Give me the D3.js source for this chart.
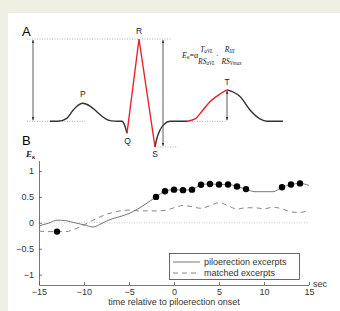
<!DOCTYPE html>
<html>
<head>
<meta charset="utf-8">
<script src="https://cdn.jsdelivr.net/npm/d3@7"></script>
<style>
  body { margin: 0; background: #efefe4; }
  svg { display: block; }
</style>
</head>
<body>
<svg id="chart"></svg>
<script>
const width = 340;
const height = 311;

// panel A: schematic ECG beat (ms, mV)
const ecgT = [0, 32, 67, 93, 113, 131, 160, 187, 213, 240, 272, 288, 298, 308];
const ecgV = [0, 0, 0.058, 0.219, 0.315, 0.35, 0.296, 0.187, 0.078, 0.012, 0, 0, -0.07, -0.233];
const qrsT = [308, 356, 420];
const qrsV = [-0.233, 1.6, -0.5];
const postST = [420, 428, 440, 456, 480, 548];
const postSV = [-0.5, -0.325, -0.17, -0.062, 0, 0];
const tRiseT = [548, 580, 612, 640, 680, 708];
const tRiseV = [0, 0.045, 0.22, 0.38, 0.53, 0.61];
const tFallT = [708, 760, 800, 840, 868, 932];
const tFallV = [0.61, 0.48, 0.22, 0.045, 0, 0];
const waveLabels = ["P", "Q", "R", "S", "T"];
const waveLabelT = [131, 310, 356, 420, 708];
const waveLabelV = [0.35, -0.233, 1.6, -0.5, 0.61];

// panel B: E_kappa over time
const timeSec = [-15, -14, -13, -12, -11, -10, -9, -8, -7, -6, -5, -4, -3, -2, -1, 0, 1, 2, 3, 4, 5, 6, 7, 8, 9, 10, 11, 12, 13, 14, 15];
const piloValues = [-0.06, -0.01, 0.05, 0.04, 0.0, -0.04, -0.08, -0.01, 0.07, 0.12, 0.18, 0.27, 0.38, 0.5, 0.61, 0.64, 0.63, 0.64, 0.735, 0.75, 0.74, 0.74, 0.70, 0.65, 0.6, 0.6, 0.6, 0.685, 0.74, 0.76, 0.72];
const matchedValues = [-0.16, -0.17, -0.17, -0.17, -0.12, -0.04, 0.05, 0.13, 0.19, 0.23, 0.245, 0.23, 0.23, 0.23, 0.24, 0.29, 0.335, 0.31, 0.28, 0.33, 0.39, 0.33, 0.265, 0.29, 0.29, 0.27, 0.3, 0.27, 0.21, 0.2, 0.24];
const piloSigTimes = [-2, -1, 0, 1, 2, 3, 4, 5, 6, 7, 8, 12, 13, 14];
const matchedSigTimes = [-13];
const yTicks = [-1, -0.5, 0, 0.5, 1];
const xTicks = [-15, -10, -5, 0, 5, 10, 15];
const legendNames = ["piloerection excerpts", "matched excerpts"];

const svg = d3.select("#chart")
  .attr("width", width)
  .attr("height", height);

svg.append("rect")
  .attr("x", 8).attr("y", 13)
  .attr("width", width - 8).attr("height", height - 13)
  .attr("fill", "#fff");

const font = "Liberation Sans, Arial, sans-serif";
const serif = "Liberation Serif, DejaVu Serif, serif";

// ---------- Panel A ----------
const xA = d3.scaleLinear().domain([0, 932]).range([50, 283]);
const yA = d3.scaleLinear().domain([-0.5, 1.6]).range([147, 39]);

const gA = svg.append("g");

svg.append("text")
  .attr("x", 22).attr("y", 36)
  .style("font-family", font).style("font-size", "13px")
  .text("A");

// dotted reference lines
const refLines = [
  [-92, 488, 1.6],
  [-92, 140, 0],
  [420, 512, -0.5],
  [548, 708, 0]
];
gA.selectAll("line.ref")
  .data(refLines)
  .enter()
  .append("line")
  .attr("class", "ref")
  .attr("x1", d => xA(d[0]))
  .attr("x2", d => xA(d[1]))
  .attr("y1", d => yA(d[2]))
  .attr("y2", d => yA(d[2]))
  .attr("stroke", "#999")
  .attr("stroke-width", 0.8)
  .attr("stroke-dasharray", "1,1.5");

// arrows
const defs = svg.append("defs");
defs.append("marker")
  .attr("id", "ah")
  .attr("viewBox", "0 0 10 10")
  .attr("refX", 10).attr("refY", 5)
  .attr("markerWidth", 4).attr("markerHeight", 4)
  .attr("orient", "auto-start-reverse")
  .append("path")
  .attr("d", "M0,1 L10,5 L0,9 z")
  .attr("fill", "#333");

const arrows = [
  [-68, 1.6, 0],
  [452, 1.6, -0.5],
  [708, 0.61, 0]
];
gA.selectAll("line.arrow")
  .data(arrows)
  .enter()
  .append("line")
  .attr("class", "arrow")
  .attr("x1", d => xA(d[0]))
  .attr("x2", d => xA(d[0]))
  .attr("y1", d => yA(d[1]) + 1)
  .attr("y2", d => yA(d[2]) - 1)
  .attr("stroke", "#333")
  .attr("stroke-width", 0.8)
  .attr("marker-start", "url(#ah)")
  .attr("marker-end", "url(#ah)");

const ecgLine = d3.line()
  .x(d => xA(d[0]))
  .y(d => yA(d[1]));

const zip = (a, b) => a.map((v, i) => [v, b[i]]);

const segments = [
  { pts: zip(ecgT, ecgV), color: "#333", curve: d3.curveMonotoneX },
  { pts: zip(postST, postSV), color: "#333", curve: d3.curveMonotoneX },
  { pts: zip(tFallT, tFallV), color: "#333", curve: d3.curveMonotoneX },
  { pts: zip(tRiseT, tRiseV), color: "#e8232b", curve: d3.curveMonotoneX },
  { pts: zip(qrsT, qrsV), color: "#e8232b", curve: d3.curveLinear }
];

segments.forEach(s => {
  gA.append("path")
    .attr("d", ecgLine.curve(s.curve)(s.pts))
    .attr("fill", "none")
    .attr("stroke", s.color)
    .attr("stroke-width", 1.4)
    .attr("stroke-linejoin", "miter");
});

const labelDy = [-6, 11, -5, 10, -5];
gA.selectAll("text.wave")
  .data(waveLabels)
  .enter()
  .append("text")
  .attr("x", (d, i) => xA(waveLabelT[i]))
  .attr("y", (d, i) => yA(waveLabelV[i]) + labelDy[i])
  .attr("text-anchor", "middle")
  .style("font-family", font)
  .style("font-size", "8.5px")
  .attr("fill", "#222")
  .text(d => d);

// formula  E_k = a * T_aVL/RS_aVL * R_III/RS_Vmax
const fml = svg.append("g")
  .style("font-family", serif)
  .attr("fill", "#222");

function sym(x, y, main, sub, anchor, size) {
  const s = size || 8;
  const t = fml.append("text")
    .attr("x", x).attr("y", y)
    .attr("text-anchor", anchor || "start")
    .style("font-size", s + "px")
    .style("font-style", "italic");
  t.append("tspan").text(main);
  if (sub) t.append("tspan").style("font-size", (s * 0.68) + "px").attr("dy", 1.4).text(sub);
}
sym(182, 57.5, "E", "κ");
fml.append("text").attr("x", 189.5).attr("y", 57.5).style("font-size", "8px").text("=");
fml.append("text").attr("x", 194).attr("y", 57.5).style("font-size", "8px").text("α");
sym(206.5, 52, "T", "aVL", "middle", 7.5);
sym(206.5, 63.5, "RS", "aVL", "middle", 7.5);
fml.append("text").attr("x", 216).attr("y", 57.5).style("font-size", "8px").text("·");
sym(229.5, 52, "R", "III", "middle", 7.5);
sym(231.5, 63.5, "RS", "Vmax", "middle", 7.5);

// ---------- Panel B ----------
const x = d3.scaleLinear().domain([-15, 15]).range([39, 309]);
const y = d3.scaleLinear().domain([-1.2, 1.2]).range([285, 160.6]);

svg.append("text")
  .attr("x", 22).attr("y", 145)
  .style("font-family", font).style("font-size", "13px")
  .text("B");

const ek = svg.append("text")
  .attr("x", 26).attr("y", 157)
  .style("font-family", serif)
  .style("font-size", "9px")
  .style("font-style", "italic")
  .style("font-weight", "bold")
  .attr("fill", "#222");
ek.append("tspan").text("E");
ek.append("tspan").style("font-size", "6px").attr("dy", 1.5).text("κ");

// zero reference
svg.append("line")
  .attr("x1", x(-15)).attr("x2", x(15))
  .attr("y1", y(0)).attr("y2", y(0))
  .attr("stroke", "#bbb")
  .attr("stroke-width", 0.8)
  .attr("stroke-dasharray", "1,1.5");

const minus = d => d < 0 ? "\u2212" + Math.abs(d) : String(d);

const yAxis = svg.append("g")
  .attr("transform", `translate(${x(-15)},0)`)
  .call(d3.axisLeft(y).tickValues(yTicks).tickSize(-3).tickSizeOuter(0).tickPadding(5).tickFormat(minus));
const xAxis = svg.append("g")
  .attr("transform", `translate(0,${y(-1.2)})`)
  .call(d3.axisBottom(x).tickValues(xTicks).tickSize(-3).tickSizeOuter(0).tickPadding(4).tickFormat(minus));
[xAxis, yAxis].forEach(a => {
  a.selectAll("path, line").attr("stroke", "#555").attr("stroke-width", 0.8);
  a.selectAll("text").style("font-family", font).style("font-size", "9px").attr("fill", "#333");
});

svg.append("text")
  .attr("x", x(15) + 4).attr("y", y(-1.2) + 2)
  .style("font-family", font).style("font-size", "9px").attr("fill", "#333")
  .text("sec");

svg.append("text")
  .attr("x", x(0)).attr("y", 305)
  .attr("text-anchor", "middle")
  .style("font-family", font).style("font-size", "9px").attr("fill", "#333")
  .text("time relative to piloerection onset");

const line = d3.line()
  .x((d, i) => x(timeSec[i]))
  .y(d => y(d))
  .curve(d3.curveMonotoneX);

svg.append("path")
  .attr("d", line(matchedValues))
  .attr("fill", "none")
  .attr("stroke", "#888")
  .attr("stroke-width", 1)
  .attr("stroke-dasharray", "5,4");

svg.append("path")
  .attr("d", line(piloValues))
  .attr("fill", "none")
  .attr("stroke", "#777")
  .attr("stroke-width", 1);

const dots = piloSigTimes.map(t => [t, piloValues[timeSec.indexOf(t)]])
  .concat(matchedSigTimes.map(t => [t, matchedValues[timeSec.indexOf(t)]]));
svg.selectAll("circle.sig")
  .data(dots)
  .enter()
  .append("circle")
  .attr("class", "sig")
  .attr("cx", d => x(d[0]))
  .attr("cy", d => y(d[1]))
  .attr("r", 3.2)
  .attr("fill", "#000");

// legend
const lg = svg.append("g");
lg.append("rect")
  .attr("x", 169.5).attr("y", 253.5)
  .attr("width", 130).attr("height", 26)
  .attr("fill", "#fff")
  .attr("stroke", "#444")
  .attr("stroke-width", 0.8);
legendNames.forEach((name, i) => {
  const ly = 262 + i * 11;
  lg.append("line")
    .attr("x1", 173).attr("x2", 200)
    .attr("y1", ly).attr("y2", ly)
    .attr("stroke", i === 0 ? "#777" : "#888")
    .attr("stroke-width", 1)
    .attr("stroke-dasharray", i === 0 ? null : "5,4");
  lg.append("text")
    .attr("x", 204).attr("y", ly + 3)
    .style("font-family", font).style("font-size", "9px").attr("fill", "#333")
    .text(name);
});
</script>
</body>
</html>
